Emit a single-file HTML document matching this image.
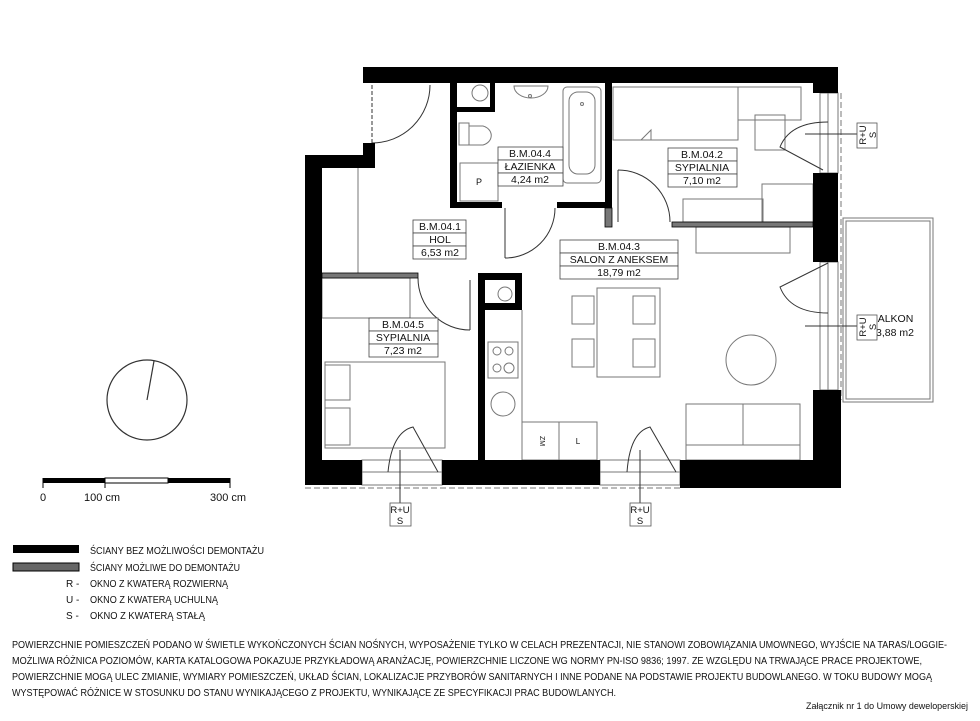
<!DOCTYPE html>
<html><head><meta charset="utf-8"><style>
html,body{margin:0;padding:0;background:#fff;}
svg{display:block;}
text{font-family:"Liberation Sans",sans-serif;fill:#111;}
</style></head><body>
<svg width="980" height="721" viewBox="0 0 980 721" xmlns="http://www.w3.org/2000/svg">
<g fill="none" stroke="#777" stroke-width="1">
<!-- balcony -->
<rect x="843" y="218" width="90" height="184"/>
<rect x="846" y="221" width="84" height="178"/>
<!-- hall wardrobe line -->
<line x1="358" y1="168" x2="358" y2="273"/>
<!-- bathroom fixtures -->
<ellipse cx="480" cy="93" rx="8" ry="8"/>
<path d="M514 86 h34 a17 12 0 0 1 -34 0z"/>
<circle cx="530" cy="96" r="1.5"/>
<rect x="563" y="87" width="38" height="96" rx="4"/>
<rect x="569" y="92" width="26" height="82" rx="9"/>
<circle cx="582" cy="104" r="1.5"/>
<rect x="459" y="123" width="10" height="22"/>
<path d="M469 126 h14 a12 10 0 0 1 0 19 h-14z"/>
<rect x="460" y="163" width="38" height="38"/>
<!-- bedroom 04.2 -->
<rect x="613" y="87" width="125" height="53"/>
<path d="M641 140 l10 -10 v10z"/>
<rect x="738" y="87" width="63" height="33"/>
<rect x="755" y="115" width="30" height="35"/>
<rect x="683" y="199" width="80" height="23"/>
<rect x="762" y="184" width="51" height="38"/>
<rect x="696" y="227" width="94" height="26"/>
<!-- dining -->
<rect x="597" y="288" width="63" height="89"/>
<rect x="572" y="296" width="22" height="28"/><rect x="572" y="339" width="22" height="28"/>
<rect x="633" y="296" width="22" height="28"/><rect x="633" y="339" width="22" height="28"/>
<circle cx="751" cy="360" r="25"/>
<!-- sofa -->
<rect x="686" y="404" width="114" height="56"/>
<line x1="743" y1="404" x2="743" y2="445"/>
<line x1="686" y1="445" x2="800" y2="445"/>
<!-- kitchen -->
<line x1="522" y1="310" x2="522" y2="460"/>
<rect x="488" y="342" width="30" height="36"/>
<circle cx="497" cy="351" r="4"/><circle cx="509" cy="351" r="4"/>
<circle cx="497" cy="368" r="4"/><circle cx="509" cy="368" r="5"/>
<circle cx="503" cy="404" r="12"/>
<circle cx="505" cy="294" r="7"/>
<rect x="522" y="422" width="37" height="38"/><rect x="559" y="422" width="38" height="38"/>
<!-- bedroom 04.5 -->
<rect x="322" y="278" width="88" height="40"/>
<rect x="325" y="362" width="120" height="86"/>
<rect x="325" y="365" width="25" height="35"/><rect x="325" y="408" width="25" height="37"/>
<!-- window frames -->
<rect x="820" y="93" width="18" height="80"/>
<line x1="828" y1="93" x2="828" y2="173"/>
<rect x="820" y="262" width="18" height="128"/>
<line x1="828" y1="262" x2="828" y2="390"/>
<rect x="362" y="460" width="80" height="25"/>
<line x1="362" y1="472" x2="442" y2="472"/>
<rect x="600" y="460" width="80" height="25"/>
<line x1="600" y1="472" x2="680" y2="472"/>
<line x1="305" y1="488" x2="680" y2="488" stroke-dasharray="6 3"/>
<line x1="841" y1="93" x2="841" y2="400" stroke-dasharray="6 3"/>
</g>
<!-- doors -->
<g fill="none" stroke="#333" stroke-width="1">
<path d="M430 85 A58 58 0 0 1 372 143"/>
<line x1="372" y1="85" x2="372" y2="148" stroke-dasharray="4 2"/>
<path d="M505 258 A50 50 0 0 0 555 208"/><line x1="505" y1="208" x2="505" y2="258"/>
<path d="M618 170 A52 52 0 0 1 670 222"/><line x1="618" y1="170" x2="618" y2="222"/>
<path d="M418 278 A52 52 0 0 0 470 330"/><line x1="470" y1="280" x2="470" y2="330"/>
<path d="M388 472 Q392 432 413 427 L438 472"/>
<path d="M627 472 Q630 432 650 427 L676 472"/>
<path d="M828 122 Q790 122 780 147 L823 170"/>
<path d="M828 263 L780 287 Q790 313 828 313"/>
<line x1="400" y1="450" x2="400" y2="503"/>
<line x1="640" y1="450" x2="640" y2="503"/>
<line x1="805" y1="134" x2="857" y2="134"/>
<line x1="805" y1="326" x2="857" y2="326"/>
</g>
<!-- black walls -->
<g fill="#000">
<rect x="363" y="67" width="475" height="16"/>
<rect x="813" y="67" width="25" height="26"/>
<rect x="813" y="173" width="25" height="89"/>
<rect x="813" y="390" width="28" height="98"/>
<rect x="680" y="460" width="161" height="28"/>
<rect x="442" y="460" width="158" height="25"/>
<rect x="305" y="460" width="57" height="25"/>
<rect x="305" y="155" width="17" height="330"/>
<rect x="305" y="155" width="70" height="13"/>
<rect x="363" y="143" width="12" height="25"/>
<rect x="450" y="83" width="7" height="125"/>
<rect x="450" y="202" width="52" height="6"/>
<rect x="557" y="202" width="55" height="6"/>
<rect x="605" y="83" width="7" height="125"/>
<rect x="490" y="83" width="5" height="29"/>
<rect x="457" y="107" width="38" height="5"/>
<rect x="478" y="273" width="7" height="187"/>
<rect x="478" y="273" width="44" height="7"/>
<rect x="515" y="273" width="7" height="37"/>
<rect x="478" y="303" width="44" height="7"/>
</g>
<g fill="#777" stroke="#000" stroke-width="0.8">
<rect x="605" y="208" width="7" height="19"/>
<rect x="672" y="222" width="141" height="5"/>
<rect x="322" y="273" width="96" height="5"/>
</g>
<!-- labels -->
<g font-size="10.5" text-anchor="middle">
<g fill="#fff" stroke="#444" stroke-width="0.8">
<rect x="498" y="147" width="65" height="13"/><rect x="498" y="160" width="65" height="13"/><rect x="498" y="173" width="65" height="13"/>
<rect x="413" y="220" width="53" height="13"/><rect x="413" y="233" width="53" height="13"/><rect x="413" y="246" width="53" height="13"/>
<rect x="560" y="240" width="118" height="13"/><rect x="560" y="253" width="118" height="13"/><rect x="560" y="266" width="118" height="13"/>
<rect x="668" y="148" width="69" height="13"/><rect x="668" y="161" width="69" height="13"/><rect x="668" y="174" width="69" height="13"/>
<rect x="369" y="318" width="69" height="13"/><rect x="369" y="331" width="69" height="13"/><rect x="369" y="344" width="69" height="13"/>
</g>
<text x="530" y="157">B.M.04.4</text><text x="530" y="170">ŁAZIENKA</text><text x="530" y="183">4,24 m2</text>
<text x="440" y="230">B.M.04.1</text><text x="440" y="243">HOL</text><text x="440" y="256">6,53 m2</text>
<text x="619" y="250">B.M.04.3</text><text x="619" y="263">SALON Z ANEKSEM</text><text x="619" y="276">18,79 m2</text>
<text x="702" y="158">B.M.04.2</text><text x="702" y="171">SYPIALNIA</text><text x="702" y="184">7,10 m2</text>
<text x="403" y="328">B.M.04.5</text><text x="403" y="341">SYPIALNIA</text><text x="403" y="354">7,23 m2</text>
<text x="892" y="322">BALKON</text><text x="895" y="336">3,88 m2</text>
<text x="479" y="185" font-size="9">P</text>
<text x="578" y="444" font-size="8">L</text>
<text x="540" y="441" font-size="7" transform="rotate(90 540 441)">ZM</text>
</g>
<!-- R+U S boxes -->
<g fill="#fff" stroke="#555" stroke-width="0.8">
<rect x="390" y="503" width="21" height="23"/><rect x="630" y="503" width="21" height="23"/>
<rect x="857" y="123" width="20" height="25"/><rect x="857" y="315" width="20" height="25"/>
</g>
<g font-size="9.5" text-anchor="middle">
<text x="400" y="513">R+U</text><text x="400" y="524">S</text>
<text x="640" y="513">R+U</text><text x="640" y="524">S</text>
<text x="866" y="135" transform="rotate(-90 866 135)">R+U</text><text x="876" y="135" transform="rotate(-90 876 135)">S</text>
<text x="866" y="327" transform="rotate(-90 866 327)">R+U</text><text x="876" y="327" transform="rotate(-90 876 327)">S</text>
</g>
<!-- compass & scale -->
<circle cx="147" cy="400" r="40" fill="none" stroke="#333" stroke-width="1.2"/>
<line x1="147" y1="400" x2="154" y2="361" stroke="#333" stroke-width="1.2"/>
<rect x="43" y="478" width="62" height="5" fill="#000"/>
<rect x="105" y="478" width="63" height="5" fill="#fff" stroke="#000"/>
<rect x="168" y="478" width="62" height="5" fill="#000"/>
<g stroke="#000"><line x1="43" y1="478" x2="43" y2="488"/><line x1="105" y1="478" x2="105" y2="488"/><line x1="230" y1="478" x2="230" y2="488"/></g>
<g font-size="11"><text x="40" y="501">0</text><text x="84" y="501">100 cm</text><text x="210" y="501">300 cm</text></g>
<!-- legend -->
<rect x="13" y="545" width="66" height="8" fill="#000"/>
<rect x="13" y="563" width="66" height="8" fill="#666" stroke="#000"/>
<g font-size="10">
<text x="90" y="554" textLength="174" lengthAdjust="spacingAndGlyphs">ŚCIANY BEZ MOŻLIWOŚCI DEMONTAŻU</text>
<text x="90" y="571" textLength="150" lengthAdjust="spacingAndGlyphs">ŚCIANY MOŻLIWE DO DEMONTAŻU</text>
<text x="66" y="587">R -</text><text x="90" y="587" textLength="138" lengthAdjust="spacingAndGlyphs">OKNO Z KWATERĄ ROZWIERNĄ</text>
<text x="66" y="603">U -</text><text x="90" y="603" textLength="128" lengthAdjust="spacingAndGlyphs">OKNO Z KWATERĄ UCHULNĄ</text>
<text x="66" y="619">S -</text><text x="90" y="619" textLength="115" lengthAdjust="spacingAndGlyphs">OKNO Z KWATERĄ STAŁĄ</text>
</g>
<!-- disclaimer -->
<g font-size="10">
<text x="12" y="648" textLength="935" lengthAdjust="spacingAndGlyphs">POWIERZCHNIE POMIESZCZEŃ PODANO W ŚWIETLE WYKOŃCZONYCH ŚCIAN NOŚNYCH, WYPOSAŻENIE TYLKO W CELACH PREZENTACJI, NIE STANOWI ZOBOWIĄZANIA UMOWNEGO, WYJŚCIE NA TARAS/LOGGIE-</text>
<text x="12" y="664" textLength="910" lengthAdjust="spacingAndGlyphs">MOŻLIWA RÓŻNICA POZIOMÓW, KARTA KATALOGOWA POKAZUJE PRZYKŁADOWĄ ARANŻACJĘ, POWIERZCHNIE LICZONE WG NORMY PN-ISO 9836; 1997. ZE WZGLĘDU NA TRWAJĄCE PRACE PROJEKTOWE,</text>
<text x="12" y="680" textLength="920" lengthAdjust="spacingAndGlyphs">POWIERZCHNIE MOGĄ ULEC ZMIANIE, WYMIARY POMIESZCZEŃ, UKŁAD ŚCIAN, LOKALIZACJE PRZYBORÓW SANITARNYCH I INNE PODANE NA PODSTAWIE PROJEKTU BUDOWLANEGO. W TOKU BUDOWY MOGĄ</text>
<text x="12" y="696" textLength="604" lengthAdjust="spacingAndGlyphs">WYSTĘPOWAĆ RÓŻNICE W STOSUNKU DO STANU WYNIKAJĄCEGO Z PROJEKTU, WYNIKAJĄCE ZE SPECYFIKACJI PRAC BUDOWLANYCH.</text>
<text x="806" y="709" font-size="9.5" textLength="162" lengthAdjust="spacingAndGlyphs">Załącznik nr 1 do Umowy deweloperskiej</text>
</g>
</svg>
</body></html>
